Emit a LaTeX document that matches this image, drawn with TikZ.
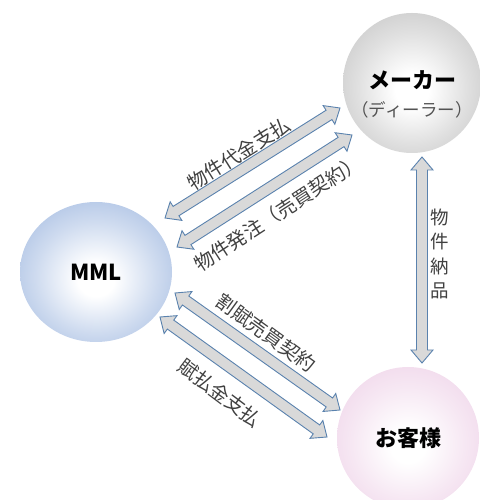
\documentclass[tikz,border=0pt]{standalone}
\usepackage{fontspec}
\setmainfont{Noto Sans CJK JP}
\usetikzlibrary{calc,shapes.geometric}
\definecolor{arrfill}{HTML}{D9D9D9}
\definecolor{arrline}{HTML}{5A82AE}
\definecolor{txtgray}{HTML}{404040}
\definecolor{mmlblue}{HTML}{A6BDE2}
\definecolor{makergray}{HTML}{C6C6C6}
\definecolor{custpink}{HTML}{EFD4E9}
\pgfdeclareradialshading{softmml}{\pgfpoint{0bp}{-3bp}}{color(0bp)=(white); color(6bp)=(white); color(20bp)=(mmlblue!55!white); color(33bp)=(mmlblue); color(50bp)=(mmlblue)}
\pgfdeclareradialshading{softmaker}{\pgfpoint{0bp}{-3bp}}{color(0bp)=(white); color(6bp)=(white); color(20bp)=(makergray!55!white); color(33bp)=(makergray); color(50bp)=(makergray)}
\pgfdeclareradialshading{softcust}{\pgfpoint{0bp}{-3bp}}{color(0bp)=(white); color(6bp)=(white); color(20bp)=(custpink!55!white); color(33bp)=(custpink); color(50bp)=(custpink)}
\tikzset{
  party/.style={ellipse, draw=none, inner sep=0pt},
  blockarrow/.style={fill=arrfill, draw=arrline, line width=0.9pt, line join=miter},
  lbl/.style={text=txtgray, font=\fontsize{19.5}{21}\selectfont, inner sep=0pt},
  ttl/.style={text=black, font=\fontsize{22}{24}\selectfont\bfseries, inner sep=0pt},
}
\newcommand\blockarr[2]{%
  \coordinate (h1) at ($(#1)!13pt!(#2)$);
  \coordinate (h2) at ($(#2)!13pt!(#1)$);
  \draw[blockarrow] (#1) -- ($(h1)!11pt!90:(#2)$) -- ($(h1)!5.5pt!90:(#2)$)
    -- ($(h2)!5.5pt!-90:(#1)$) -- ($(h2)!11pt!-90:(#1)$) -- (#2)
    -- ($(h2)!11pt!90:(#1)$) -- ($(h2)!5.5pt!90:(#1)$)
    -- ($(h1)!5.5pt!-90:(#2)$) -- ($(h1)!11pt!-90:(#2)$) -- cycle;}
\begin{document}
\begin{tikzpicture}[x=1pt,y=1pt]
\useasboundingbox (0,0) rectangle (479,500);
% parties
\node[party, shading=softmaker, minimum width=138pt, minimum height=140pt] (maker) at (412,417) {};
\node[party, shading=softmml, minimum width=152pt, minimum height=140pt] (mml) at (96,228) {};
\node[party, shading=softcust, minimum width=142pt, minimum height=142pt] (cust) at (408,62) {};
\node[ttl] (makert) at ([yshift=3pt]maker.center) {メーカー};
\node[lbl, text=txtgray!90, font=\fontsize{17.5}{19}\selectfont] (makers) at ([yshift=-27pt]maker.center) {（ディーラー）};
\node[ttl] (mmlt) at (mml.center) {MML};
\node[ttl] (custt) at (cust.center) {お客様};
% arrow end points
\coordinate (a1s) at (165,282); \coordinate (a1e) at (340,392);
\coordinate (a2s) at (177,253); \coordinate (a2e) at (352,365);
\coordinate (a3s) at (175,207); \coordinate (a3e) at (340,90);
\coordinate (a4s) at (160,183); \coordinate (a4e) at (327,63);
\coordinate (vs) at (422,343); \coordinate (ve) at (422,137);
\blockarr{a1s}{a1e}
\blockarr{a2s}{a2e}
\blockarr{a3s}{a3e}
\blockarr{a4s}{a4e}
\blockarr{vs}{ve}
% labels
\node[lbl, rotate=32] (l1) at (239,346) {物件代金支払};
\node[lbl, rotate=33] (l2) at (278,287) {物件発注（売買契約）};
\node[lbl, rotate=-36] (l3) at (266,167) {割賦売買契約};
\node[lbl, rotate=-37] (l4) at (220,107) {賦払金支払};
\node[lbl, align=center, font=\fontsize{18.5}{24.5}\selectfont] (l5) at (440,246) {物\\件\\納\\品};
\end{tikzpicture}
\end{document}
